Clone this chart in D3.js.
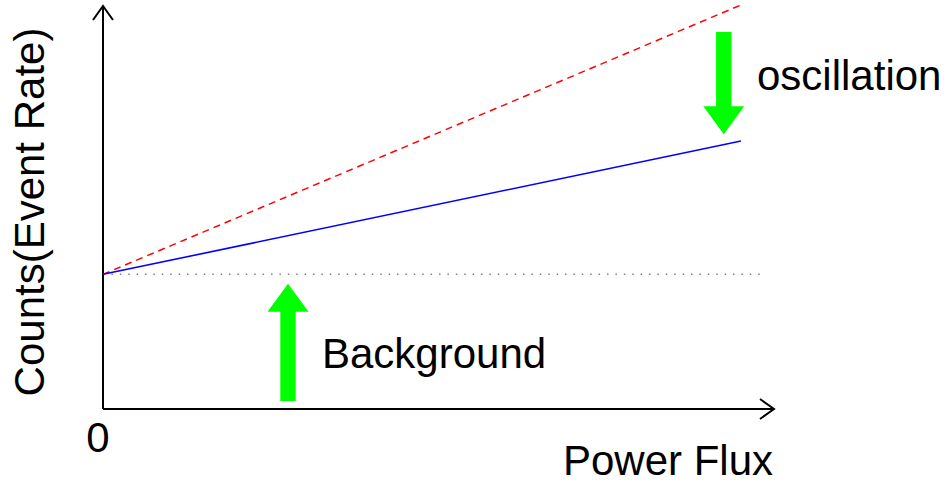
<!DOCTYPE html>
<html>
<head>
<meta charset="utf-8">
<script src="https://cdn.jsdelivr.net/npm/d3@7"></script>
<style>
html,body{margin:0;padding:0;background:#fff;}
text{font-family:"Liberation Sans",Arial,sans-serif;}
</style>
</head>
<body>
<svg id="chart" width="945" height="483"></svg>
<script>
// Data (relative units)
const fluxDomain = [0, 1];
const backgroundLevel = [1, 1];            // flat background
const noOscillation = [1, 3.0];            // red dashed
const withOscillation = [1, 1.99];         // blue
const lineX = [0, 1];
const bgX = [0, 1.035];
const xAxisLabel = "Power Flux";
const yAxisLabel = "Counts(Event Rate)";
const originLabel = "0";
// annotation arrows: [x, yFrom, yTo]
const downArrow = [0.973, 2.80, 2.04];
const upArrow = [0.29, 0.06, 0.93];
const annotations = ["oscillation", "Background"];

const svg = d3.select("#chart");
const x = d3.scaleLinear().domain(fluxDomain).range([103, 741]);
const y = d3.scaleLinear().domain([0, 3]).range([409, 5]);

// axes
const ax = svg.append("g").attr("stroke", "#000").attr("stroke-width", 2).attr("fill", "none");
ax.append("line").attr("x1", x(0)).attr("y1", y(0)).attr("x2", x(0)).attr("y2", 6);
ax.append("path").attr("d", `M${x(0)-10},20 L${x(0)},6 L${x(0)+10},20`);
ax.append("line").attr("x1", x(0)).attr("y1", y(0)).attr("x2", 774).attr("y2", y(0));
ax.append("path").attr("d", `M760,${y(0)-10} L774,${y(0)} L760,${y(0)+10}`);

// background dotted line
svg.append("line")
  .attr("x1", x(bgX[0])).attr("y1", y(backgroundLevel[0]))
  .attr("x2", x(bgX[1])).attr("y2", y(backgroundLevel[1]))
  .attr("stroke", "#808080").attr("stroke-width", 1.5)
  .attr("stroke-dasharray", "1.5,6.9");

const line = d3.line().x((d, i) => x(lineX[i])).y(d => y(d));
svg.append("path").datum(noOscillation).attr("d", line)
  .attr("fill", "none").attr("stroke", "#ff0000").attr("stroke-width", 1.5)
  .attr("stroke-dasharray", "7,5");
svg.append("path").datum(withOscillation).attr("d", line)
  .attr("fill", "none").attr("stroke", "#0000ff").attr("stroke-width", 1.6);

// green arrows
function arrow(a) {
  const cx = x(a[0]), y0 = y(a[1]), y1 = y(a[2]);
  const dir = y1 > y0 ? 1 : -1;
  const hw = 20.5, sw = 7.7, hl = 28;
  const yb = y1 - dir * hl;
  return `M${cx-sw},${y0} L${cx+sw},${y0} L${cx+sw},${yb} L${cx+hw},${yb} L${cx},${y1} L${cx-hw},${yb} L${cx-sw},${yb} Z`;
}
svg.append("path").attr("d", arrow(downArrow)).attr("fill", "#00ff00");
svg.append("path").attr("d", arrow(upArrow)).attr("fill", "#00ff00");

// texts
const fs = 42;
svg.append("text").attr("x", 757).attr("y", 90).attr("font-size", fs).text(annotations[0]);
svg.append("text").attr("x", 322).attr("y", 368).attr("font-size", fs).text(annotations[1]);
svg.append("text").attr("x", 98).attr("y", 452).attr("font-size", fs).attr("text-anchor", "middle").text(originLabel);
svg.append("text").attr("x", 773).attr("y", 475).attr("font-size", fs).attr("text-anchor", "end").text(xAxisLabel);
svg.append("text").attr("transform", "translate(44,212) rotate(-90)").attr("font-size", fs)
  .attr("text-anchor", "middle").text(yAxisLabel);
</script>
</body>
</html>
